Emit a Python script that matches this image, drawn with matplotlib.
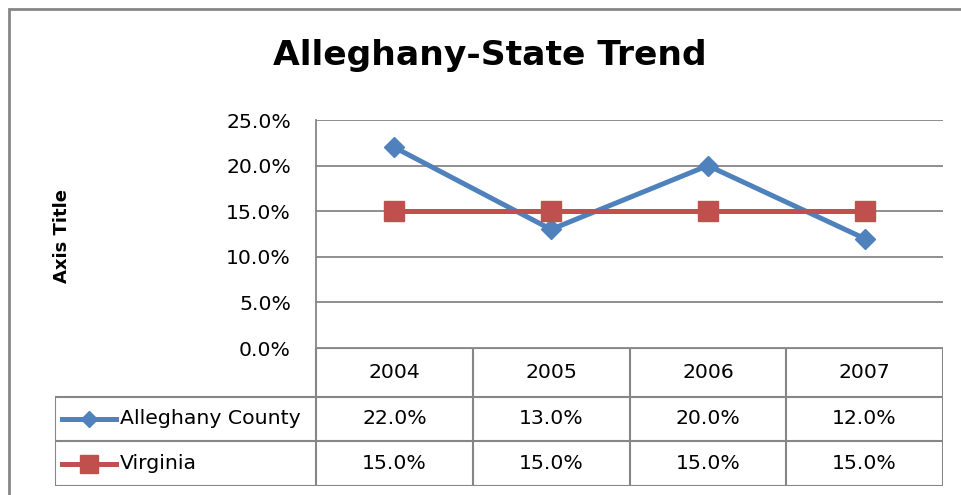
import matplotlib.pyplot as plt
from matplotlib.patches import Rectangle
from matplotlib.lines import Line2D

years = ['2004', '2005', '2006', '2007']
county = [22.0, 13.0, 20.0, 12.0]
virginia = [15.0, 15.0, 15.0, 15.0]
series_names = ['Alleghany County', 'Virginia']
yticks = [0, 5, 10, 15, 20, 25]

blue = '#4F81BD'
red = '#C0504D'
grid_c = '#868686'
font = 'DejaVu Sans'

W, H = 961, 495
fig = plt.figure(figsize=(W / 100, H / 100), dpi=100)

# outer chart border (runs off right/bottom like the screenshot)
fig.patches.append(Rectangle((9 / W, -0.1), 1.2, (H - 9) / H + 0.1,
                             transform=fig.transFigure, fill=False,
                             edgecolor=grid_c, linewidth=2))

# plot area in pixels
left, right, top, bottom = 316, 943, 120, 348
ax = fig.add_axes([left / W, (H - bottom) / H, (right - left) / W, (bottom - top) / H])
x = list(range(len(years)))
ax.plot(x, county, color=blue, linewidth=3.6, marker='D', markersize=10,
        zorder=3, clip_on=False)
ax.plot(x, virginia, color=red, linewidth=3.6, marker='s', markersize=14,
        zorder=4, clip_on=False)
ax.set_xlim(-0.5, len(years) - 0.5)
ax.set_ylim(0, 25)
ax.set_yticks(yticks)
ax.set_yticklabels(['{:.1f}%'.format(v) for v in yticks], fontsize=14.7, family=font)
ax.tick_params(axis='y', length=0, pad=18)
ax.set_xticks([])
for v in yticks:
    ax.axhline(v, color=grid_c, linewidth=1.3, zorder=1)
for s in ['top', 'right', 'bottom']:
    ax.spines[s].set_visible(False)
ax.spines['left'].set_color(grid_c)
ax.spines['left'].set_linewidth(1.3)

fig.text(490 / W, 1 - 65 / H, 'Alleghany-State Trend', ha='center', va='baseline',
         fontsize=24.8, fontweight='bold', family=font)
fig.text(62 / W, 1 - 236 / H, 'Axis Title', ha='center', va='center', rotation=90,
         fontsize=13, fontweight='bold', family=font)

# data table below the plot: x in category units, y in pixels
tleft, tbottom = 55, 486
unit = (right - left) / len(years)
x0 = -0.5 - (left - tleft) / unit
tax = fig.add_axes([tleft / W, (H - tbottom) / H, (right - tleft) / W, (tbottom - bottom) / H])
tax.set_xlim(x0, len(years) - 0.5)
tax.set_ylim(tbottom, bottom)
tax.axis('off')
rows = [bottom, 397, 441, tbottom]
lc = dict(color=grid_c, linewidth=1.5)
tax.plot([-0.5, len(years) - 0.5], [rows[0], rows[0]], **lc)
for r in rows[1:]:
    tax.plot([x0, len(years) - 0.5], [r, r], **lc)
tax.plot([x0, x0], [rows[1], rows[3]], **lc)
for i in range(len(years) + 1):
    tax.plot([i - 0.5, i - 0.5], [rows[0], rows[3]], **lc)

for i, yr in enumerate(years):
    tax.text(i, (rows[0] + rows[1]) / 2, yr, ha='center', va='center', fontsize=14.7, family=font)
for r, (name, vals, col, mk, ms) in enumerate(zip(series_names, [county, virginia],
                                                   [blue, red], ['D', 's'], [8.5, 13.5])):
    yc = (rows[r + 1] + rows[r + 2]) / 2
    for i, v in enumerate(vals):
        tax.text(i, yc, '{:.1f}%'.format(v), ha='center', va='center', fontsize=14.7, family=font)
    kx0 = x0 + (62 - tleft) / unit
    kx1 = x0 + (116 - tleft) / unit
    tax.add_line(Line2D([kx0, kx1], [yc, yc], color=col, linewidth=3.6))
    tax.plot([(kx0 + kx1) / 2], [yc], marker=mk, color=col, markersize=ms)
    tax.text(x0 + (120 - tleft) / unit, yc, name, ha='left', va='center', fontsize=14.7, family=font)

fig.savefig('out.png', dpi=100)
